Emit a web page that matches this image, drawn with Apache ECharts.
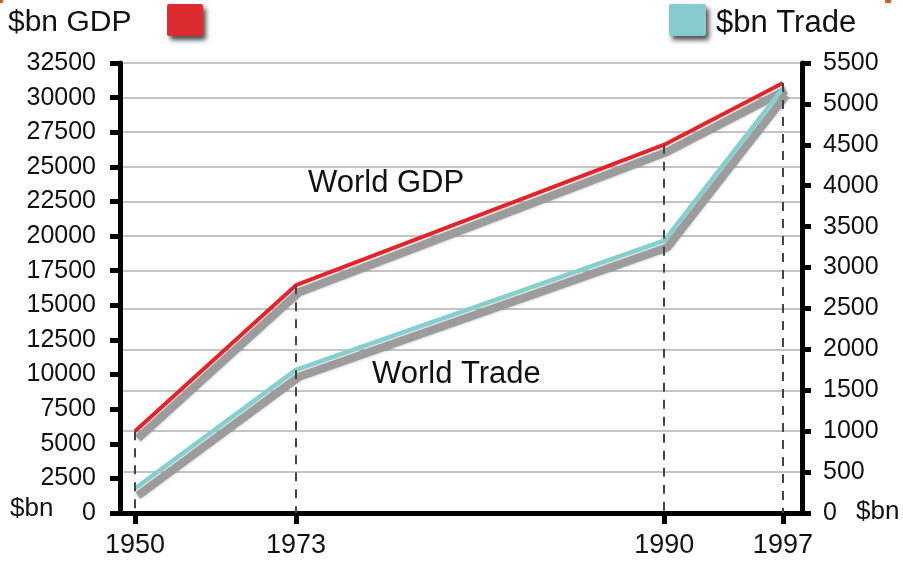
<!DOCTYPE html>
<html lang="en">
<head>
    <meta charset="UTF-8">
    <title>World GDP and World Trade</title>
    <script src="https://cdn.jsdelivr.net/npm/echarts@6/dist/echarts.min.js"></script>
    <style>
        html, body { margin: 0; padding: 0; background: #fff; }
        #main { width: 903px; height: 561px; }
    </style>
</head>
<body>
<div id="main"></div>
<script>
    // data
    var years = [1950, 1973, 1990, 1997];
    // where each year sits along the (non-linear) time axis, 0..100
    var yearSlots = [2.2, 25.8, 79.8, 97.2];
    var gdp = [5900, 16450, 26600, 31050];     // $bn, left axis
    var trade = [300, 1750, 3330, 5190];       // $bn, right axis

    var gdpMax = 32500, gdpStep = 2500;
    var tradeMax = 5500, tradeStep = 500;

    var FONT = 'Liberation Sans';

    function pairs(vals) {
        var out = [];
        for (var i = 0; i < vals.length; i++) {
            out.push([yearSlots[i], vals[i]]);
        }
        return out;
    }

    // grid lines: upper ones follow the left axis, lower ones the right axis
    var leftGridColors = [];
    for (var v = 0; v <= gdpMax; v += gdpStep) {
        leftGridColors.push(v >= 17500 ? '#c4c4c4' : 'rgba(0,0,0,0)');
    }
    var rightGridColors = [];
    for (var w = 0; w <= tradeMax; w += tradeStep) {
        rightGridColors.push(w > 0 && w <= 2500 ? '#c4c4c4' : 'rgba(0,0,0,0)');
    }

    var dashLines = [];
    for (var i = 0; i < years.length; i++) {
        dashLines.push([{coord: [yearSlots[i], gdp[i]]}, {coord: [yearSlots[i], 0]}]);
    }

    var plain = function (val) { return String(val); };

    var myChart = echarts.init(document.getElementById('main'));
    var option = {
        animation: false,
        backgroundColor: '#fff',
        textStyle: {fontFamily: FONT},
        grid: [
            {left: 120, right: 101, top: 63, bottom: 48},
            // same grid nudged down-right, carries the grey drop shadows
            {left: 123, right: 98, top: 70, bottom: 41}
        ],
        xAxis: [
            {
                type: 'value', gridIndex: 0, min: 0, max: 100,
                axisLine: {show: true, onZero: false, lineStyle: {color: '#000', width: 5}},
                axisTick: {show: true, customValues: yearSlots, length: 11, lineStyle: {color: '#000', width: 5}},
                axisLabel: {
                    customValues: yearSlots, margin: 19, fontSize: 27, color: '#111', fontFamily: FONT,
                    formatter: function (val) {
                        for (var k = 0; k < yearSlots.length; k++) {
                            if (Math.abs(yearSlots[k] - val) < 0.01) return String(years[k]);
                        }
                        return '';
                    }
                },
                splitLine: {show: false}
            },
            {type: 'value', gridIndex: 1, min: 0, max: 100, show: false}
        ],
        yAxis: [
            {
                type: 'value', gridIndex: 0, min: 0, max: gdpMax, interval: gdpStep, position: 'left',
                axisLine: {show: true, lineStyle: {color: '#000', width: 5}},
                axisTick: {show: true, length: 10, lineStyle: {color: '#000', width: 5}},
                axisLabel: {margin: 24, fontSize: 25, color: '#111', fontFamily: FONT, formatter: plain},
                splitLine: {show: true, lineStyle: {color: leftGridColors, width: 2}}
            },
            {
                type: 'value', gridIndex: 0, min: 0, max: tradeMax, interval: tradeStep, position: 'right',
                axisLine: {show: true, lineStyle: {color: '#000', width: 5}},
                axisTick: {show: true, length: 9, lineStyle: {color: '#000', width: 5}},
                axisLabel: {margin: 21, fontSize: 25, color: '#111', fontFamily: FONT, formatter: plain},
                splitLine: {show: true, lineStyle: {color: rightGridColors, width: 2}}
            },
            {type: 'value', gridIndex: 1, min: 0, max: gdpMax, show: false, splitLine: {show: false}},
            {type: 'value', gridIndex: 1, min: 0, max: tradeMax, show: false, splitLine: {show: false}}
        ],
        series: [
            {
                name: 'GDP shadow', type: 'line', xAxisIndex: 1, yAxisIndex: 2, z: 1,
                data: pairs(gdp), showSymbol: false, silent: true,
                lineStyle: {color: '#9c9c9c', width: 8, shadowColor: 'rgba(80,80,80,0.5)', shadowBlur: 3}
            },
            {
                name: 'Trade shadow', type: 'line', xAxisIndex: 1, yAxisIndex: 3, z: 1,
                data: pairs(trade), showSymbol: false, silent: true,
                lineStyle: {color: '#9c9c9c', width: 8, shadowColor: 'rgba(80,80,80,0.5)', shadowBlur: 3}
            },
            {
                name: '$bn GDP', type: 'line', xAxisIndex: 0, yAxisIndex: 0, z: 3,
                data: pairs(gdp), showSymbol: false,
                lineStyle: {color: '#e0262b', width: 4},
                markLine: {
                    silent: true, symbol: ['none', 'none'], label: {show: false},
                    lineStyle: {color: '#444', width: 2, type: [9, 8]},
                    data: dashLines
                }
            },
            {
                name: '$bn Trade', type: 'line', xAxisIndex: 0, yAxisIndex: 1, z: 3,
                data: pairs(trade), showSymbol: false,
                lineStyle: {color: '#85d0cf', width: 4.5}
            }
        ],
        graphic: [
            // little orange border remnants in the corners
            {type: 'rect', left: 0, top: 0, shape: {width: 3, height: 3}, style: {fill: '#c8641e'}},
            {type: 'rect', left: 885, top: 0, shape: {width: 6, height: 3}, style: {fill: '#c8641e'}},
            // key boxes
            {type: 'rect', left: 167, top: 4, shape: {width: 36, height: 32, r: 2},
                style: {fill: '#dd2c2f', shadowColor: 'rgba(0,0,0,0.7)', shadowBlur: 5, shadowOffsetX: 3, shadowOffsetY: 4}},
            {type: 'rect', left: 669, top: 4, shape: {width: 37, height: 32, r: 2},
                style: {fill: '#86cccc', shadowColor: 'rgba(0,0,0,0.7)', shadowBlur: 5, shadowOffsetX: 3, shadowOffsetY: 4}},
            {type: 'text', left: 8, top: 8,
                style: {text: '$bn GDP', font: '30px "Liberation Sans"', fill: '#111'}},
            {type: 'text', left: 716, top: 8,
                style: {text: '$bn Trade', font: '31px "Liberation Sans"', fill: '#111'}},
            {type: 'text', left: 10, top: 496,
                style: {text: '$bn', font: '26px "Liberation Sans"', fill: '#111'}},
            {type: 'text', left: 856, top: 499,
                style: {text: '$bn', font: '26px "Liberation Sans"', fill: '#111'}},
            // series annotations
            {type: 'text', left: 308, top: 168,
                style: {text: 'World GDP', font: '31px "Liberation Sans"', fill: '#111'}},
            {type: 'text', left: 372, top: 359,
                style: {text: 'World Trade', font: '31px "Liberation Sans"', fill: '#111'}}
        ]
    };
    myChart.setOption(option);
</script>
</body>
</html>
